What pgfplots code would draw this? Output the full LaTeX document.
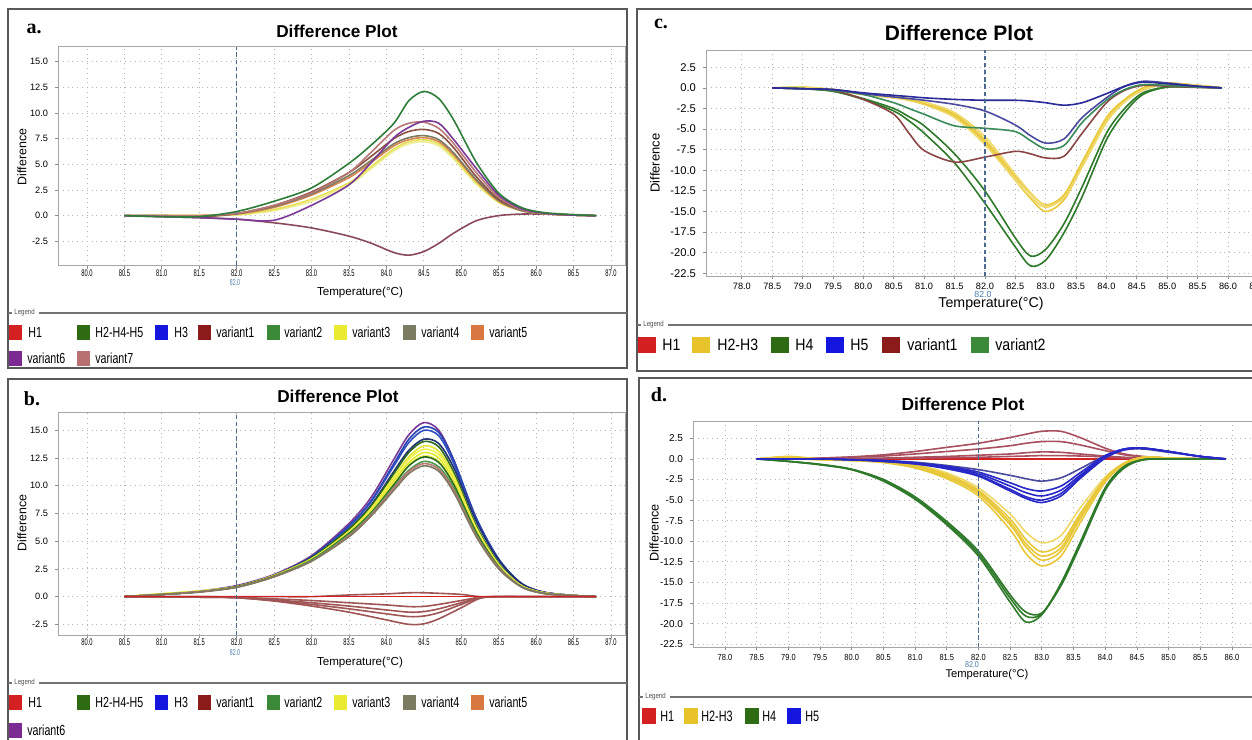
\documentclass[border=0pt]{standalone}
\usepackage{pgfplots}
\pgfplotsset{compat=1.18}
\usepackage{pgfplotstable}
\usepackage{graphicx}
\usepackage{fontspec}
\setmainfont{Liberation Sans}
\newfontfamily\serifb{Liberation Serif}
\newcommand\fs[1]{\fontsize{#1}{#1}\selectfont}
\newcommand\sx[1]{\scalebox{0.6}[1]{#1}}
\newcommand\sy[1]{\scalebox{0.85}[1]{#1}}

% legend colours
\definecolor{lH1}{HTML}{D42020}
\definecolor{lHg}{HTML}{2F6B12}
\definecolor{lH3}{HTML}{1515E0}
\definecolor{lv1}{HTML}{8B1A1A}
\definecolor{lv2}{HTML}{3A8A3A}
\definecolor{lv3}{HTML}{EAEA30}
\definecolor{lv4}{HTML}{7B7B62}
\definecolor{lv5}{HTML}{D87840}
\definecolor{lv6}{HTML}{7A2A90}
\definecolor{lv7}{HTML}{B87070}
\definecolor{lgold}{HTML}{E8C42A}
% curve colours
\definecolor{cgrn}{HTML}{2E7D3A}
\definecolor{cpur}{HTML}{7B3A96}
\definecolor{cros}{HTML}{B87878}
\definecolor{cbrn}{HTML}{8A5040}
\definecolor{colv}{HTML}{7D7A60}
\definecolor{corg}{HTML}{D88850}
\definecolor{cyel}{HTML}{E5E055}
\definecolor{cyel2}{HTML}{EEEE90}
\definecolor{cneg}{HTML}{8B4A5A}
\definecolor{cbl1}{HTML}{2A40B0}
\definecolor{cbl2}{HTML}{3050C0}
\definecolor{cnav}{HTML}{203070}
\definecolor{cdg}{HTML}{2E6B20}
\definecolor{clime}{HTML}{E0E830}
\definecolor{clime2}{HTML}{F0F050}
\definecolor{cg2}{HTML}{4A9A4A}
\definecolor{cgry}{HTML}{807860}
\definecolor{cred}{HTML}{A05555}
\definecolor{cblue}{HTML}{2828C8}
\definecolor{cnavy}{HTML}{2A2A9A}
\definecolor{cslate}{HTML}{4A4AA0}
\definecolor{cteal}{HTML}{3A8A5A}
\definecolor{cmar}{HTML}{8B4545}
\definecolor{cgold}{HTML}{E8C838}
\definecolor{cgold2}{HTML}{F0D868}
\definecolor{cdgreen}{HTML}{2F7A2A}
\definecolor{crose}{HTML}{A85060}
\definecolor{dashc}{HTML}{4A6A90}
\definecolor{lab82}{HTML}{4A7AAA}

\pgfplotstableread{
x grn pur ros brn olv org yla ylb neg
80.5 0 0 0 0 0 0 0 0 0
81.0 -0.1 -0.1 0 0 0 0 0 0.05 -0.1
81.5 -0.1 -0.2 0 -0.1 -0.1 0 0 0.05 -0.2
82.0 0.4 -0.35 0.2 0.2 0.2 0.15 0.1 0.05 -0.35
82.5 1.4 -0.45 1.0 1.0 0.9 0.8 0.6 0.5 -0.7
83.0 2.7 1.0 2.2 2.3 2.1 2.0 1.6 1.4 -1.2
83.5 5.1 3.0 4.2 4.2 3.9 3.7 3.2 3.0 -2.0
83.8 6.9 5.2 6.2 5.8 5.4 5.2 4.8 4.6 -2.7
84.1 9.0 7.6 8.3 7.5 7.0 6.8 6.5 6.3 -3.6
84.3 11.2 8.6 9.0 8.2 7.6 7.4 7.2 7.0 -3.85
84.5 12.1 9.2 9.1 8.4 7.8 7.6 7.4 7.2 -3.5
84.7 11.4 9.0 8.5 8.0 7.4 7.2 7.0 6.8 -2.7
84.9 9.3 7.4 7.0 6.6 6.1 5.9 5.7 5.5 -1.7
85.2 5.2 4.6 4.2 3.8 3.5 3.4 3.2 3.1 -0.5
85.5 2.2 2.0 1.8 1.6 1.5 1.4 1.3 1.3 0.0
85.8 0.8 0.7 0.6 0.6 0.5 0.5 0.5 0.5 0.15
86.1 0.3 0.25 0.2 0.2 0.2 0.2 0.2 0.2 0.15
86.5 0.1 0.05 0.05 0.05 0.05 0.05 0.05 0.05 0.05
86.8 0 0 0 0 0 0 0 0 0
}\tabA

\pgfplotstableread{
x pur bla blb nav dga ya yb yc yd dgb gb ros gry
80.5 0 0 0 0 0 0 0 0 0 0 0 0 0
81.0 0.2 0.2 0.2 0.2 0.2 0.25 0.25 0.25 0.25 0.2 0.2 0.2 0.2
81.5 0.5 0.45 0.45 0.45 0.45 0.5 0.5 0.5 0.5 0.45 0.45 0.45 0.4
82.0 1.0 0.9 0.9 0.9 0.9 0.9 0.9 0.9 0.9 0.9 0.85 0.85 0.85
82.5 2.0 1.9 1.9 1.9 1.9 1.9 1.9 1.9 1.85 1.85 1.8 1.8 1.8
83.0 3.7 3.6 3.5 3.5 3.5 3.4 3.4 3.4 3.3 3.3 3.3 3.2 3.2
83.5 6.6 6.4 6.3 6.1 6.1 5.9 5.85 5.8 5.7 5.7 5.6 5.5 5.4
83.8 9.0 8.7 8.6 8.3 8.2 8.0 7.9 7.8 7.7 7.6 7.5 7.4 7.3
84.1 12.4 12.0 11.8 11.3 11.1 10.8 10.6 10.4 10.2 10.1 9.9 9.8 9.6
84.3 14.6 14.2 13.9 13.2 13.0 12.6 12.4 12.1 11.9 11.8 11.4 11.3 11.1
84.5 15.7 15.3 15.0 14.2 14.0 13.6 13.3 13.0 12.7 12.6 12.2 12.0 11.8
84.7 15.0 14.8 14.5 13.8 13.5 13.1 12.8 12.5 12.2 12.1 11.7 11.5 11.3
84.9 12.3 12.3 12.0 11.6 11.2 10.9 10.7 10.4 10.2 10.1 9.8 9.6 9.4
85.2 7.0 7.1 6.9 6.8 6.4 6.2 6.1 5.9 5.8 5.8 5.6 5.5 5.4
85.5 3.3 3.4 3.3 3.3 3.0 2.9 2.85 2.8 2.75 2.7 2.6 2.6 2.5
85.8 1.2 1.2 1.2 1.2 1.0 1.0 1.0 1.0 0.95 0.9 0.9 0.9 0.9
86.1 0.4 0.4 0.4 0.4 0.35 0.35 0.35 0.35 0.3 0.3 0.3 0.3 0.3
86.5 0.1 0.1 0.1 0.1 0.1 0.1 0.1 0.1 0.1 0.1 0.1 0.1 0.1
86.8 0 0 0 0 0 0 0 0 0 0 0 0 0
}\tabB

\pgfplotstableread{
x na nb nc nd pp hz
80.5 0 0 0 0 0 0
81.5 -0.05 -0.05 0 0 0 0
82.0 -0.1 -0.1 -0.1 -0.05 0 0
82.5 -0.4 -0.35 -0.3 -0.2 0 0
83.0 -0.85 -0.7 -0.55 -0.35 0 0
83.5 -1.4 -1.1 -0.85 -0.55 0.15 0
84.0 -2.1 -1.55 -1.2 -0.75 0.25 0
84.3 -2.5 -1.8 -1.4 -0.9 0.35 0
84.5 -2.45 -1.75 -1.35 -0.88 0.35 0
84.7 -2.0 -1.45 -1.1 -0.7 0.3 0
85.0 -1.0 -0.7 -0.55 -0.35 0.2 0
85.25 -0.15 -0.1 -0.1 -0.05 0 0
85.5 0 0 0 0 0 0
86.0 0 0 0 0 0 0
86.8 0 0 0 0 0 0
}\tabBn

\pgfplotstableread{
x bs bd vb va ya yb yc yd ga gb
78.5 0 0 0 0 0 0 0 0 0 0
79.0 -0.1 -0.1 -0.1 -0.1 -0.05 -0.05 0.1 0.1 -0.1 -0.1
79.5 -0.2 -0.2 -0.3 -0.3 -0.3 -0.3 -0.2 -0.2 -0.4 -0.4
80.0 -0.6 -0.7 -0.8 -1.4 -0.8 -0.8 -0.7 -0.7 -1.4 -1.3
80.5 -0.9 -1.1 -1.8 -3.2 -1.2 -1.2 -1.1 -1.0 -2.8 -2.5
80.75 -1.05 -1.3 -2.5 -5.5 -1.5 -1.5 -1.4 -1.3 -4.0 -3.5
81.0 -1.2 -1.5 -3.2 -7.6 -2.0 -2.0 -1.9 -1.7 -5.5 -4.6
81.5 -1.4 -2.0 -4.6 -9.0 -3.4 -3.6 -3.2 -3.0 -9.1 -8.0
82.0 -1.5 -2.8 -4.9 -8.4 -6.6 -6.9 -6.3 -5.9 -14.0 -12.5
82.5 -1.5 -4.5 -5.3 -7.7 -11.2 -11.2 -10.8 -10.5 -19.3 -18.2
82.75 -1.6 -5.8 -6.4 -8.0 -13.4 -13.2 -12.8 -12.7 -21.6 -20.4
83.0 -1.8 -6.7 -7.4 -8.5 -15.0 -14.5 -14.2 -14.3 -20.9 -19.6
83.3 -2.1 -6.2 -7.0 -8.3 -13.6 -13.2 -13.0 -13.3 -17.6 -16.5
83.6 -1.8 -3.6 -4.2 -5.5 -9.5 -9.2 -9.0 -9.6 -13.2 -12.0
84.0 -0.7 -1.2 -1.5 -1.8 -4.0 -3.8 -3.6 -4.2 -6.3 -5.5
84.3 0.2 0.2 -0.2 -0.3 -1.6 -1.5 -1.4 -1.7 -3.0 -2.5
84.6 0.7 0.8 0.4 0.3 -0.2 -0.1 0 -0.3 -0.8 -0.6
85.0 0.5 0.6 0.3 0.2 0.5 0.5 0.6 0.5 0.1 0.1
85.5 0.2 0.2 0.1 0.05 0.3 0.3 0.3 0.3 0.1 0.1
85.9 0 0 0 0 0 0 0 0 0 0
}\tabC

\pgfplotstableread{
x ga gb gc ya yb yc yd ye ba bb bc bd be ra rb rc rd hz
78.5 0 0 0 0 0 0 0 0 0 0 0 0 0 0 0 0 0 0
79.0 -0.3 -0.3 -0.3 0 0.2 0.3 0.2 0.1 0 0 0 0 0 0.05 0 0 0 0
79.5 -0.7 -0.7 -0.65 -0.1 -0.1 0 0 0 0 0 0 0 0 0.1 0.1 0 0 0
80.0 -1.3 -1.3 -1.25 -0.2 -0.2 -0.15 -0.1 -0.1 -0.1 -0.1 -0.1 -0.1 -0.1 0.25 0.2 0.05 0.05 0
80.5 -2.7 -2.6 -2.5 -0.45 -0.4 -0.35 -0.3 -0.3 -0.3 -0.3 -0.2 -0.2 -0.2 0.5 0.35 0.1 0.05 0
81.0 -4.9 -4.8 -4.6 -1.1 -1.0 -0.9 -0.8 -0.7 -0.6 -0.6 -0.5 -0.5 -0.4 0.9 0.6 0.2 0.1 0
81.5 -8.0 -7.8 -7.6 -2.4 -2.2 -2.1 -1.9 -1.7 -1.2 -1.1 -1.0 -0.9 -0.8 1.4 0.9 0.3 0.15 0
82.0 -11.8 -11.5 -11.2 -4.5 -4.2 -4.0 -3.8 -3.5 -2.1 -2.0 -1.8 -1.6 -1.3 1.9 1.2 0.45 0.2 0
82.5 -17.4 -16.9 -16.5 -8.6 -8.0 -7.7 -7.3 -6.7 -3.9 -3.7 -3.3 -2.9 -2.0 2.6 1.6 0.6 0.3 0
82.75 -19.8 -19.1 -18.6 -11.5 -10.7 -10.3 -9.8 -8.9 -4.8 -4.6 -4.1 -3.6 -2.4 3.0 1.9 0.75 0.35 0
83.0 -18.9 -18.8 -18.7 -13.0 -12.3 -11.8 -11.3 -10.2 -5.3 -5.0 -4.5 -3.9 -2.7 3.35 2.1 0.85 0.4 0
83.3 -15.1 -15.3 -15.4 -11.8 -11.2 -10.8 -10.3 -9.3 -4.5 -4.2 -3.8 -3.3 -2.3 3.35 2.1 0.8 0.4 0
83.6 -10.2 -10.4 -10.6 -7.8 -7.3 -7.0 -6.7 -6.0 -2.4 -2.2 -2.0 -1.7 -1.2 2.6 1.7 0.6 0.35 0
84.0 -3.5 -3.6 -3.8 -2.8 -2.6 -2.5 -2.4 -2.2 0.1 0.2 0.3 0.4 0.4 1.3 1.0 0.35 0.25 0
84.3 -0.9 -1.0 -1.1 -0.7 -0.6 -0.6 -0.5 -0.5 1.1 1.2 1.2 1.2 1.1 0.6 0.5 0.2 0.1 0
84.6 -0.1 -0.1 -0.1 0.1 0.2 0.2 0.2 0.2 1.3 1.3 1.3 1.3 1.2 0.3 0.25 0.1 0.05 0
85.0 0 0 0 0.1 0.1 0.1 0.1 0.1 0.9 0.9 0.9 0.9 0.8 0.1 0.1 0 0 0
85.5 0 0 0 0 0 0 0 0 0.3 0.3 0.3 0.3 0.3 0.05 0 0 0 0
85.9 0 0 0 0 0 0 0 0 0 0 0 0 0 0 0 0 0 0
}\tabD

\tikzset{dl/.style={dashc, line width=0.6pt, dash pattern=on 2.2pt off 1.4pt}}
\pgfplotsset{
  dp/.style={scale only axis, anchor=north west, clip=true,
    axis line style={draw=black!35, line width=0.5pt},
    grid=major, grid style={dotted, black!30, line width=0.45pt},
    tick pos=left, tick align=outside, major tick length=1.5pt,
    tick style={black!45, line width=0.4pt},
    /pgf/number format/assume math mode=true},
  cv/.style={smooth, line width=0.8pt, no markers},
  xAB/.style={xtick={80,80.5,...,87},
    xticklabels={\sx{80.0},\sx{80.5},\sx{81.0},\sx{81.5},\sx{82.0},\sx{82.5},\sx{83.0},\sx{83.5},\sx{84.0},\sx{84.5},\sx{85.0},\sx{85.5},\sx{86.0},\sx{86.5},\sx{87.0}},
    ytick={-2.5,0,...,15}, yticklabels={-2.5,0.0,2.5,5.0,7.5,10.0,12.5,15.0},
    xticklabel style={font=\fs{4.8}, yshift=3pt}, yticklabel style={font=\fs{4.6}}},
  yCD/.style={ytick={-22.5,-20,...,2.5},
    yticklabels={-22.5,-20.0,-17.5,-15.0,-12.5,-10.0,-7.5,-5.0,-2.5,0.0,2.5}}
}

\newcommand\litem[5]{% sqx, y, colour, textx, text
  \node[fill=#3, inner sep=0, minimum width=\lsw, minimum height=\lsh, anchor=west] at (#1,#2) {};
  \node[anchor=west, inner sep=0, font=\lfont] at (#4,#2) {\scalebox{\lsqz}[1]{#5}};}

\begin{document}
\begin{tikzpicture}
\useasboundingbox (0,0) rectangle (626pt,-369.5pt);
\clip (0,0) rectangle (626pt,-369.5pt);
\fill[white] (0,0) rectangle (626pt,-369.5pt);

% ---------------- panel a ----------------
\begin{axis}[dp, xAB, at={(29pt,-23.35pt)}, width=283.5pt, height=109.5pt,
  xmin=79.613, xmax=87.187, ymin=-4.88, ymax=16.46]
\addplot[cv, cneg] table[y=neg]{\tabA};
\addplot[cv, cyel2] table[y=ylb]{\tabA};
\addplot[cv, cyel] table[y=yla]{\tabA};
\addplot[cv, corg] table[y=org]{\tabA};
\addplot[cv, colv] table[y=olv]{\tabA};
\addplot[cv, cbrn] table[y=brn]{\tabA};
\addplot[cv, cros] table[y=ros]{\tabA};
\addplot[cv, cpur] table[y=pur]{\tabA};
\addplot[cv, cgrn] table[y=grn]{\tabA};
\draw[dl] (82,-4.88) -- (82,16.46);
\end{axis}

% ---------------- panel b ----------------
\begin{axis}[dp, xAB, at={(29pt,-206pt)}, width=283.5pt, height=111.5pt,
  xmin=79.613, xmax=87.187, ymin=-3.46, ymax=16.65]
\addplot[cv, cpur] table[y=pur]{\tabB};
\addplot[cv, cbl1] table[y=bla]{\tabB};
\addplot[cv, cbl2] table[y=blb]{\tabB};
\addplot[cv, cnav] table[y=nav]{\tabB};
\addplot[cv, cdg] table[y=dga]{\tabB};
\addplot[cv, clime] table[y=ya]{\tabB};
\addplot[cv, clime2] table[y=yb]{\tabB};
\addplot[cv, clime] table[y=yc]{\tabB};
\addplot[cv, clime2] table[y=yd]{\tabB};
\addplot[cv, cdg] table[y=dgb]{\tabB};
\addplot[cv, cg2] table[y=gb]{\tabB};
\addplot[cv, cros] table[y=ros]{\tabB};
\addplot[cv, cgry] table[y=gry]{\tabB};
\addplot[cv, cred] table[y=na]{\tabBn};
\addplot[cv, cred] table[y=nb]{\tabBn};
\addplot[cv, cred] table[y=nc]{\tabBn};
\addplot[cv, cred] table[y=nd]{\tabBn};
\addplot[cv, cred] table[y=pp]{\tabBn};
\addplot[line width=0.8pt, lH1] table[y=hz]{\tabBn};
\draw[dl] (82,-3.46) -- (82,16.65);
\end{axis}

% ---------------- panel c ----------------
\begin{axis}[dp, yCD, at={(353pt,-25pt)}, width=278pt, height=113pt,
  xmin=77.41, xmax=86.56, ymin=-22.83, ymax=4.6,
  xtick={78,78.5,...,86.5},
  xticklabels={78.0,78.5,79.0,79.5,80.0,80.5,81.0,81.5,82.0,82.5,83.0,83.5,84.0,84.5,85.0,85.5,86.0,86.5},
  xticklabel style={font=\fs{4.6}, yshift=1.5pt}, yticklabel style={font=\fs{5.6}}]
\addplot[cv, cgold] table[y=ya]{\tabC};
\addplot[cv, cgold2] table[y=yb]{\tabC};
\addplot[cv, cgold] table[y=yc]{\tabC};
\addplot[cv, cgold2] table[y=yd]{\tabC};
\addplot[cv, cdgreen] table[y=ga]{\tabC};
\addplot[cv, cdgreen] table[y=gb]{\tabC};
\addplot[cv, cmar] table[y=va]{\tabC};
\addplot[cv, cteal] table[y=vb]{\tabC};
\addplot[cv, cslate] table[y=bd]{\tabC};
\addplot[cv, cnavy] table[y=bs]{\tabC};
\draw[dl] (82,-22.83) -- (82,4.6);
\end{axis}

% ---------------- panel d ----------------
\begin{axis}[dp, yCD, at={(346.5pt,-210.5pt)}, width=279.5pt, height=113pt,
  xmin=77.495, xmax=86.316, ymin=-22.83, ymax=4.6,
  xtick={78,78.5,...,86},
  xticklabels={\sy{78.0},\sy{78.5},\sy{79.0},\sy{79.5},\sy{80.0},\sy{80.5},\sy{81.0},\sy{81.5},\sy{82.0},\sy{82.5},\sy{83.0},\sy{83.5},\sy{84.0},\sy{84.5},\sy{85.0},\sy{85.5},\sy{86.0}},
  xticklabel style={font=\fs{4.4}, yshift=1.5pt}, yticklabel style={font=\fs{5.0}}]
\addplot[line width=0.8pt, lH1] table[y=hz]{\tabD};
\addplot[cv, crose] table[y=rd]{\tabD};
\addplot[cv, crose] table[y=rc]{\tabD};
\addplot[cv, crose] table[y=rb]{\tabD};
\addplot[cv, crose] table[y=ra]{\tabD};
\addplot[cv, cgold2] table[y=ye]{\tabD};
\addplot[cv, cgold] table[y=yd]{\tabD};
\addplot[cv, cgold] table[y=yc]{\tabD};
\addplot[cv, cgold] table[y=yb]{\tabD};
\addplot[cv, cgold] table[y=ya]{\tabD};
\addplot[cv, cdgreen] table[y=gc]{\tabD};
\addplot[cv, cdgreen] table[y=gb]{\tabD};
\addplot[cv, cdgreen] table[y=ga]{\tabD};
\addplot[cv, cslate] table[y=be]{\tabD};
\addplot[cv, cblue] table[y=bd]{\tabD};
\addplot[cv, cblue] table[y=bc]{\tabD};
\addplot[cv, cblue] table[y=bb]{\tabD};
\addplot[cv, cblue] table[y=ba]{\tabD};
\draw[dl] (82,-22.83) -- (82,4.6);
\end{axis}

% ---------------- decorations (pixel units) ----------------
\begin{scope}[x=0.5pt, y=-0.5pt]
% frames
\draw[black!65, line width=0.8pt] (8,9) rectangle (627,368);
\draw[black!65, line width=0.8pt] (8,379) rectangle (627,745);
\draw[black!65, line width=0.8pt] (637,9) rectangle (1262,371);
\draw[black!65, line width=0.8pt] (639,378) rectangle (1262,745);
% panel letters
\node[font=\serifb\fs{10}\bfseries] at (34,29) {a.};
\node[font=\serifb\fs{10}\bfseries] at (32,399) {b.};
\node[font=\serifb\fs{10}\bfseries] at (661,24) {c.};
\node[font=\serifb\fs{10}\bfseries] at (659,395) {d.};
% titles
\node[font=\fs{8.6}\bfseries] at (337,31) {Difference Plot};
\node[font=\fs{8.6}\bfseries] at (338,396) {Difference Plot};
\node[font=\fs{10.5}\bfseries] at (959,33) {Difference Plot};
\node[font=\fs{8.7}\bfseries] at (963,404) {Difference Plot};
% y labels
\node[font=\fs{6.2}, rotate=90] at (22,157) {Difference};
\node[font=\fs{6.2}, rotate=90] at (22,523) {Difference};
\node[font=\fs{6.5}, rotate=90] at (655,163) {Difference};
\node[font=\fs{6.3}, rotate=90] at (654,533) {Difference};
% x labels
\node[font=\fs{5.8}] at (360,292) {Temperature(°C)};
\node[font=\fs{5.8}] at (360,662) {Temperature(°C)};
\node[font=\fs{7.1}] at (991,304) {Temperature(°C)};
\node[font=\fs{5.6}] at (987,675) {Temperature(°C)};
% 82.0 markers
\node[font=\fs{4.3}, text=lab82] at (235,283) {\sx{82.0}};
\node[font=\fs{4.3}, text=lab82] at (235,653) {\sx{82.0}};
\node[font=\fs{4.4}, text=lab82] at (983,294) {82.0};
\node[font=\fs{4.2}, text=lab82] at (972,665) {\sy{82.0}};
% legend separators
\foreach \yy/\xl/\xr in {313/8/627, 683/8/627, 325/637/1262, 697/639/1262}{
  \draw[black!55, line width=0.6pt] (\xl,\yy) -- (\xl+4,\yy);
  \draw[black!55, line width=0.6pt] (\xl+31,\yy) -- (\xr,\yy);
  \node[anchor=west, inner sep=0, font=\fs{3.8}, text=black!70] at (\xl+6,\yy) {\scalebox{0.8}[1]{Legend}};
}
% legend a
\def\lsw{6.5pt}\def\lsh{7.5pt}\def\lfont{\fs{7.3}}\def\lsqz{0.73}
\litem{9}{332}{lH1}{28}{H1}
\litem{77}{332}{lHg}{95}{H2-H4-H5}
\litem{155}{332}{lH3}{174}{H3}
\litem{198}{332}{lv1}{216}{variant1}
\litem{267}{332}{lv2}{284}{variant2}
\litem{334}{332}{lv3}{352}{variant3}
\litem{403}{332}{lv4}{421}{variant4}
\litem{471}{332}{lv5}{489}{variant5}
\litem{9}{358}{lv6}{27}{variant6}
\litem{77}{358}{lv7}{95}{variant7}
% legend b
\litem{9}{702}{lH1}{28}{H1}
\litem{77}{702}{lHg}{95}{H2-H4-H5}
\litem{155}{702}{lH3}{174}{H3}
\litem{198}{702}{lv1}{216}{variant1}
\litem{267}{702}{lv2}{284}{variant2}
\litem{334}{702}{lv3}{352}{variant3}
\litem{403}{702}{lv4}{421}{variant4}
\litem{471}{702}{lv5}{489}{variant5}
\litem{9}{730}{lv6}{27}{variant6}
% legend c
\def\lsw{9pt}\def\lsh{8pt}\def\lfont{\fs{8.2}}\def\lsqz{0.86}
\litem{638}{345}{lH1}{662}{H1}
\litem{692}{345}{lgold}{717}{H2-H3}
\litem{771}{345}{lHg}{795}{H4}
\litem{826}{345}{lH3}{850}{H5}
\litem{882}{345}{lv1}{907}{variant1}
\litem{971}{345}{lv2}{995}{variant2}
% legend d
\def\lsw{7pt}\def\lsh{8pt}\def\lfont{\fs{7.5}}\def\lsqz{0.72}
\litem{642}{716}{lH1}{660}{H1}
\litem{684}{716}{lgold}{701}{H2-H3}
\litem{745}{716}{lHg}{762}{H4}
\litem{787}{716}{lH3}{805}{H5}
\end{scope}
\end{tikzpicture}
\end{document}
